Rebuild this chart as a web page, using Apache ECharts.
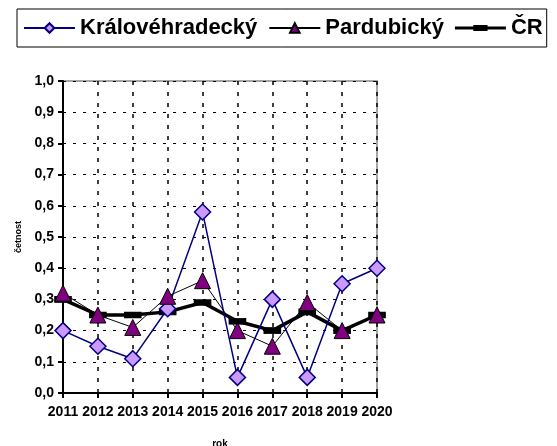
<!DOCTYPE html>
<html>
<head>
<meta charset="utf-8">
<script src="https://cdn.jsdelivr.net/npm/echarts@6/dist/echarts.min.js"></script>
<style>
  html, body { margin: 0; padding: 0; background: #fff; }
  #chart { width: 557px; height: 446px; }
</style>
</head>
<body>
<div id="chart"></div>
<script>
var years = ['2011', '2012', '2013', '2014', '2015', '2016', '2017', '2018', '2019', '2020'];
var kralovehradecky = [0.20, 0.15, 0.11, 0.27, 0.58, 0.05, 0.30, 0.05, 0.35, 0.40];
var pardubicky = [0.32, 0.25, 0.21, 0.31, 0.36, 0.20, 0.15, 0.29, 0.20, 0.25];
var cr = [0.30, 0.25, 0.25, 0.26, 0.29, 0.23, 0.20, 0.26, 0.20, 0.25];

var myChart = echarts.init(document.getElementById('chart'));
var font = 'Arial, "Liberation Sans", sans-serif';

var option = {
  backgroundColor: '#fff',
  animation: false,
  textStyle: { fontFamily: font },
  legend: {
    left: 17,
    top: 9,
    width: 640,
    padding: [8, 4, 8, 6],
    borderColor: '#000',
    borderWidth: 1,
    itemWidth: 51,
    itemHeight: 12,
    itemGap: 11,
    textStyle: { fontSize: 22, fontWeight: 'bold', color: '#000', fontFamily: font },
    data: [
      'Královéhradecký',
      'Pardubický',
      { name: 'ČR', icon: 'path://M0,4.5 L50,4.5 L50,7.5 L0,7.5 Z M18,3 L32,3 L32,9 L18,9 Z' }
    ]
  },
  grid: {
    left: 63,
    top: 81,
    right: 180,
    bottom: 53,
    outerBoundsMode: 'none',
    show: true,
    borderColor: '#888',
    borderWidth: 1.5
  },
  xAxis: {
    type: 'category',
    data: years,
    boundaryGap: false,
    name: 'rok',
    nameLocation: 'middle',
    nameGap: 46,
    nameTextStyle: { fontSize: 10, fontWeight: 'bold', color: '#000' },
    axisLine: { lineStyle: { color: '#000', width: 2 } },
    axisTick: { alignWithLabel: true, length: 5, lineStyle: { color: '#000', width: 2 } },
    axisLabel: { interval: 0, fontSize: 14, fontWeight: 'bold', color: '#000', margin: 12 },
    splitLine: { show: true, lineStyle: { color: '#000', width: 1.5, type: [4, 7] } }
  },
  yAxis: {
    type: 'value',
    min: 0,
    max: 1,
    interval: 0.1,
    name: 'četnost',
    nameLocation: 'middle',
    nameGap: 40,
    nameRotate: 90,
    nameTextStyle: { fontSize: 9, fontWeight: 'bold', color: '#000' },
    axisLine: { show: true, lineStyle: { color: '#000', width: 2 } },
    axisTick: { show: true, length: 5, lineStyle: { color: '#000', width: 2 } },
    axisLabel: {
      fontSize: 14, fontWeight: 'bold', color: '#000', margin: 9,
      formatter: function (v) { return v.toFixed(1).replace('.', ','); }
    },
    splitLine: { show: true, lineStyle: { color: '#000', width: 1, type: [3, 7] } }
  },
  series: [
    {
      name: 'Královéhradecký',
      type: 'line',
      data: kralovehradecky,
      symbol: 'diamond',
      symbolSize: 16,
      showAllSymbol: true,
      lineStyle: { color: '#000080', width: 1.5 },
      itemStyle: { color: '#cc99ff', borderColor: '#000080', borderWidth: 1.5 },
      z: 3
    },
    {
      name: 'Pardubický',
      type: 'line',
      data: pardubicky,
      symbol: 'triangle',
      symbolSize: 16,
      showAllSymbol: true,
      lineStyle: { color: '#000', width: 1 },
      itemStyle: { color: '#800080', borderColor: '#000', borderWidth: 1 },
      z: 4
    },
    {
      name: 'ČR',
      type: 'line',
      data: cr,
      symbol: 'rect',
      symbolSize: [16, 6],
      showAllSymbol: true,
      lineStyle: { color: '#000', width: 3.5 },
      itemStyle: { color: '#000', borderColor: '#000' },
      z: 2
    }
  ]
};

myChart.setOption(option);
</script>
</body>
</html>
